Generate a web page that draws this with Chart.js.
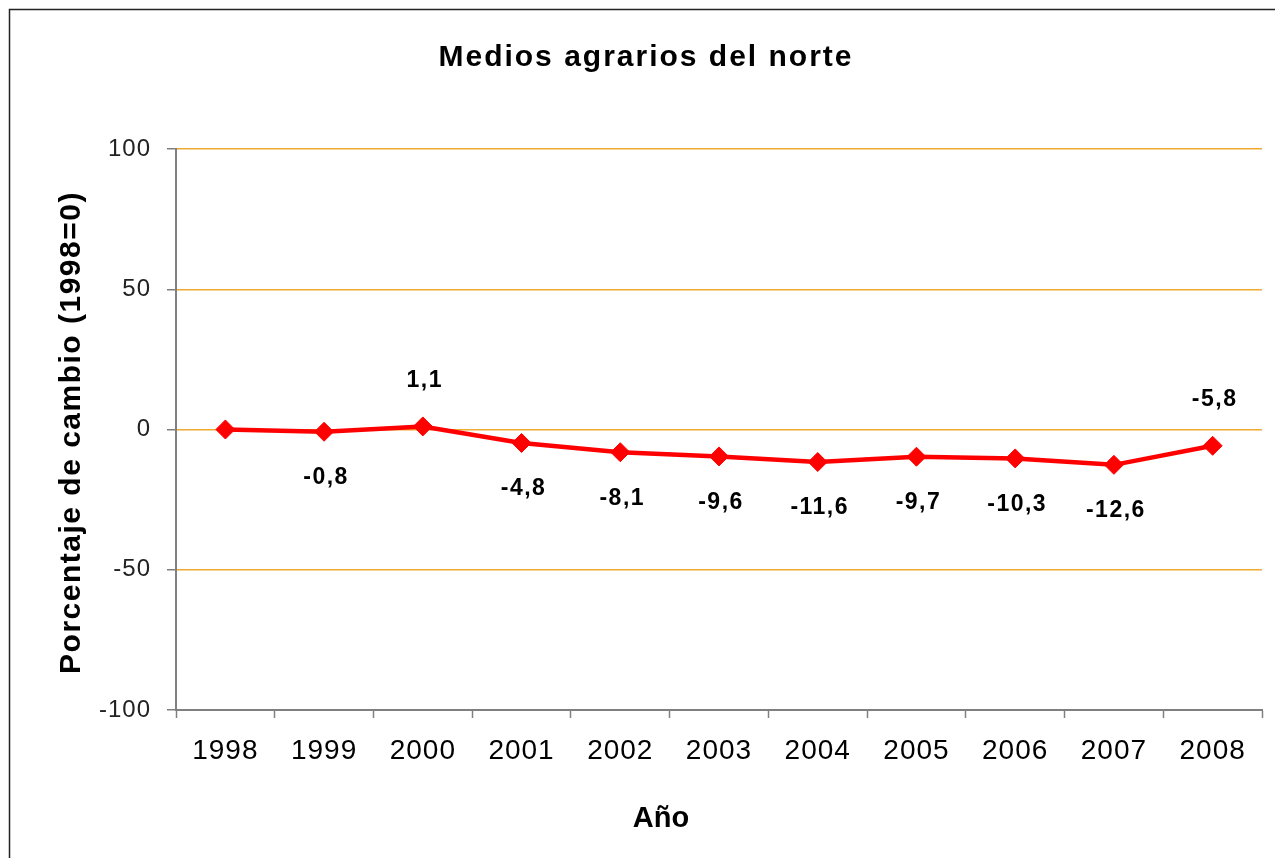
<!DOCTYPE html>
<html>
<head>
<meta charset="utf-8">
<script src="https://cdn.jsdelivr.net/npm/chart.js@4"></script>
<style>
    html, body { margin: 0; padding: 0; background: #fff; }
    #wrap { width: 1275px; height: 858px; }
</style>
</head>
<body>
<div id="wrap"><canvas id="myChart"></canvas></div>
<script>
const years = ['1998', '1999', '2000', '2001', '2002', '2003', '2004', '2005', '2006', '2007', '2008'];
const cambio = [0, -0.8, 1.1, -4.8, -8.1, -9.6, -11.6, -9.7, -10.3, -12.6, -5.8];
const yTicks = [-100, -50, 0, 50, 100];

const chartTitle = 'Medios agrarios del norte';
const xTitle = 'Año';
const yTitle = 'Porcentaje de cambio (1998=0)';

// where each value label sits: 1 = above, -1 = below, 0 = none
const labelSide = [0, -1, 1, -1, -1, -1, -1, -1, -1, -1, 1];

const FONT = '"Liberation Sans", Arial, sans-serif';

const textPlugin = {
    id: 'texts',
    beforeDraw(chart) {
        const ctx = chart.ctx;
        ctx.save();
        ctx.fillStyle = '#fff';
        ctx.fillRect(0, 0, chart.width, chart.height);
        ctx.strokeStyle = '#222';
        ctx.lineWidth = 1.5;
        ctx.strokeRect(9.5, 9.5, 1400, 1000);
        ctx.restore();
        ctx.letterSpacing = '1px';
    },
    afterDraw(chart) {
        const ctx = chart.ctx;
        const area = chart.chartArea;
        ctx.save();
        ctx.fillStyle = '#000';
        ctx.textAlign = 'center';
        ctx.textBaseline = 'alphabetic';

        ctx.letterSpacing = '2px';
        ctx.font = 'bold 30px ' + FONT;
        ctx.fillText(chartTitle, 646, 66);

        ctx.letterSpacing = '0px';
        ctx.font = 'bold 29px ' + FONT;
        ctx.fillText(xTitle, 661, 827);

        ctx.save();
        ctx.translate(80, (area.top + area.bottom) / 2 + 3);
        ctx.rotate(-Math.PI / 2);
        ctx.letterSpacing = '1.5px';
        ctx.font = 'bold 30px ' + FONT;
        ctx.fillText(yTitle, 0, 0);
        ctx.restore();

        // value labels
        const meta = chart.getDatasetMeta(0);
        ctx.letterSpacing = '1.5px';
        ctx.font = 'bold 23px ' + FONT;
        ctx.textBaseline = 'middle';
        meta.data.forEach((pt, i) => {
            if (!labelSide[i]) return;
            const txt = cambio[i].toFixed(1).replace('.', ',');
            const y = labelSide[i] > 0 ? pt.y - 46 : pt.y + 46;
            ctx.fillText(txt, pt.x + 2, y);
        });
        ctx.restore();
    },
};

new Chart(document.getElementById('myChart'), {
    type: 'line',
    data: {
        labels: years,
        datasets: [
            {
                data: cambio,
                borderColor: '#ff0000',
                backgroundColor: '#ff0000',
                borderWidth: 4.5,
                tension: 0,
                pointStyle: 'rectRot',
                pointRadius: 9.5,
                pointBorderWidth: 1,
            },
        ],
    },
    options: {
        responsive: true,
        maintainAspectRatio: false,
        animation: false,
        events: [],
        layout: {
            padding: { top: 149, right: 13, left: 0, bottom: 0 },
        },
        plugins: {
            legend: { display: false },
            title: { display: false },
            tooltip: { enabled: false },
        },
        scales: {
            x: {
                offset: true,
                grid: {
                    offset: true,
                    drawOnChartArea: false,
                    drawTicks: true,
                    tickLength: 8,
                    tickColor: '#808080',
                    tickWidth: 1.5,
                },
                border: { color: '#808080', width: 2 },
                ticks: {
                    color: '#000',
                    padding: 16,
                    maxRotation: 0,
                    autoSkip: false,
                    font: { family: FONT, size: 28 },
                },
                afterFit(scale) {
                    scale.height = 148;
                },
            },
            y: {
                min: -100,
                max: 100,
                afterBuildTicks(scale) {
                    scale.ticks = yTicks.map((v) => ({ value: v }));
                },
                grid: {
                    color: '#eeaa33',
                    lineWidth: 1.5,
                    drawTicks: true,
                    tickLength: 9,
                    tickColor: '#808080',
                    tickWidth: 1.5,
                },
                border: { color: '#808080', width: 2 },
                ticks: {
                    color: '#222',
                    padding: 16,
                    font: { family: FONT, size: 24 },
                },
                afterFit(scale) {
                    scale.width = 176;
                },
            },
        },
    },
    plugins: [textPlugin],
});
</script>
</body>
</html>
